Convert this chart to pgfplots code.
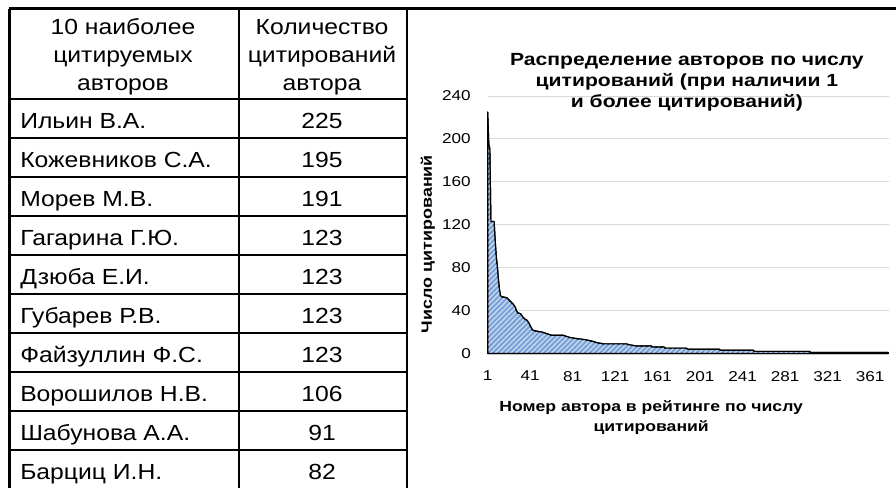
\documentclass[border=0pt]{standalone}
\usepackage{fontspec}
\setmainfont{Liberation Sans}
\newfontfamily\tabfont{Liberation Sans}[FakeStretch=1.13]
\newfontfamily\chfont{Liberation Sans}[FakeStretch=1.2]
\usepackage{pgfplots}
\pgfplotsset{compat=1.18}
\usetikzlibrary{patterns.meta}
\definecolor{areablue}{RGB}{118,160,214}
\definecolor{stripe}{RGB}{196,215,238}
\definecolor{gridgray}{RGB}{217,217,217}
\begin{document}
\begin{tikzpicture}
\begin{scope}[x=0.75pt,y=-0.75pt]
\path[use as bounding box] (0,0) rectangle (896,487);
\draw[line width=1.8pt] (8.6,8.5) -- (896,8.5);
\foreach \xx in {9.5,239,407} {\draw[line width=1.8pt] (\xx,8.5) -- (\xx,490);}
\foreach \yy in {99,138,177,216,255,294,333,372,411,450} {\draw[line width=1.8pt] (8.6,\yy) -- (407.9,\yy);}
\begin{scope}[every node/.style={inner sep=0pt, font=\tabfont\fontsize{16.4pt}{20pt}\selectfont}]
\node[anchor=base] at (123,34) {10 наиболее};
\node[anchor=base] at (123,62) {цитируемых};
\node[anchor=base] at (123,90) {авторов};
\node[anchor=base] at (322,34) {Количество};
\node[anchor=base] at (322,62) {цитирований};
\node[anchor=base] at (322,90) {автора};
\foreach \nm/\vv [count=\i from 0] in {Ильин В.А./225, Кожевников С.А./195, Морев М.В./191, Гагарина Г.Ю./123, Дзюба Е.И./123, Губарев Р.В./123, Файзуллин Ф.С./123, Ворошилов Н.В./106, Шабунова А.А./91, Барциц И.Н./82} {
  \node[anchor=base west] at (20,{128.5+39*\i}) {\nm};
  \node[anchor=base] at (322,{128.5+39*\i}) {\vv};
}
\end{scope}
\end{scope}
\begin{axis}[
  at={(365.775pt,-265.125pt)}, anchor=south west,
  scale only axis, width=301.2pt, height=193.1pt,
  xmin=1, xmax=379, ymin=0, ymax=240,
  xtick={1,41,...,361}, ytick={0,40,...,240},
  axis line style={draw=none}, major tick length=0pt,
  ymajorgrids, major grid style={draw=gridgray, line width=0.75pt},
  tick label style={font=\chfont\fontsize{10.7pt}{12pt}\selectfont},
  /pgf/number format/assume math mode=true,
  yticklabel style={anchor=east, inner sep=0pt, xshift=-12.5pt},
  xticklabel style={anchor=north, inner sep=0pt, yshift=-13pt},
  title={Распределение авторов по числу\\цитирований (при наличии 1\\и более цитирований)},
  title style={at={(axis description cs:0.496,1.136)}, anchor=north, align=center, inner sep=0pt, font=\chfont\bfseries\fontsize{13.2pt}{15.9pt}\selectfont},
  xlabel={Номер автора в рейтинге по числу\\цитирований},
  xlabel style={at={(axis description cs:0.407,-0.183)}, anchor=north, align=center, inner sep=0pt, font=\chfont\bfseries\fontsize{11pt}{14.6pt}\selectfont},
  ylabel={Число цитирований},
  ylabel style={at={(axis description cs:-0.1487,0.425)}, anchor=center, inner sep=0pt, font=\chfont\bfseries\fontsize{11.2pt}{12pt}\selectfont},
  clip=false,
]
\addplot[draw=black, line width=0.9pt, line join=round, preaction={fill=areablue}, pattern={Lines[angle=45,distance=2.7pt,line width=1.1pt]}, pattern color=stripe] coordinates {
(1,225) (2,195) (3,191) (4,123) (7,123) (8,106) (9,91) (10,82) (11,70) (12,60) (13,54) (14,53) (19,52) (21,50) (23,48) (25,46) (27,43) (28,40) (29,38) (32,37) (34,34) (36,32) (38,31) (40,28) (41,26) (42,24) (43,22) (46,21) (52,20) (55,19) (58,18) (61,17) (72,17) (75,16) (78,15) (84,14) (92,13) (97,12) (101,11) (104,10) (110,9) (131,9) (135,8) (141,7) (155,7) (156,6) (167,6) (168,5) (188,5) (189,4) (219,4) (220,3) (251,3) (252,2) (304,2) (305,1) (378,1)
} \closedcycle;
\end{axis}
\end{tikzpicture}
\end{document}
